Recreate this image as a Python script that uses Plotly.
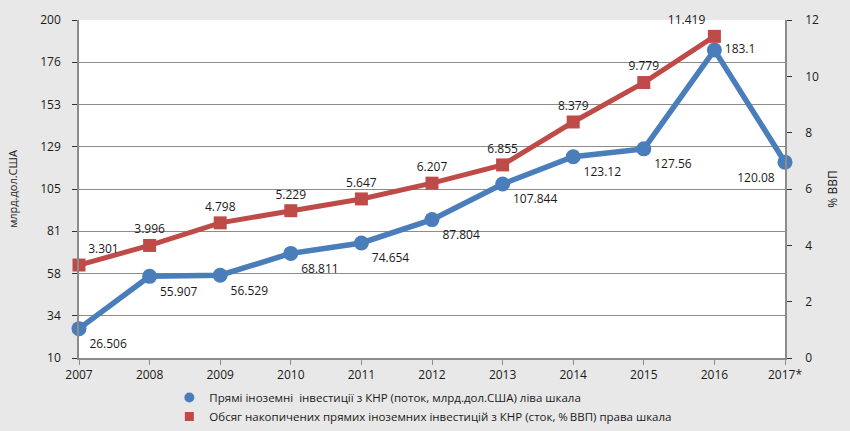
import plotly.graph_objects as go

years = ["2007", "2008", "2009", "2010", "2011", "2012", "2013", "2014", "2015", "2016", "2017*"]
fdi_flow = [26.506, 55.907, 56.529, 68.811, 74.654, 87.804, 107.844, 123.12, 127.56, 183.1, 120.08]
fdi_stock = [3.301, 3.996, 4.798, 5.229, 5.647, 6.207, 6.855, 8.379, 9.779, 11.419, None]

left_tickvals = [10, 33.75, 57.5, 81.25, 105, 128.75, 152.5, 176.25, 200]
left_ticktext = ["10", "34", "58", "81", "105", "129", "153", "176", "200"]
right_tickvals = [0, 2, 4, 6, 8, 10, 12]

name_flow = "Прямі іноземні\u00a0 інвестиції з КНР (поток, млрд.дол.США) ліва шкала"
name_stock = "Обсяг накопичених прямих іноземних інвестицій з КНР (сток, %\u2009ВВП) права шкала"

blue = "#4a7ebb"
red = "#be4b48"
xi = list(range(len(years)))

flow_pos = ["bottom right"] * 9 + ["middle right", "bottom left"]
stock_pos = ["top right"] + ["top center"] * 8 + ["top left", "top center"]

fig = go.Figure()
fig.add_trace(go.Scatter(
    x=xi, y=fdi_stock, name=name_stock, yaxis="y2", mode="lines+markers+text",
    line=dict(color=red, width=5), marker=dict(symbol="square", size=13, color=red),
    text=[("%g" % v) if v is not None else "" for v in fdi_stock],
    textposition=stock_pos, textfont=dict(size=12, color="#1a1a1a"),
    showlegend=False, cliponaxis=False, hoverinfo="skip",
))
fig.add_trace(go.Scatter(
    x=xi, y=fdi_flow, name=name_flow, mode="lines+markers+text",
    line=dict(color=blue, width=5.5), marker=dict(symbol="circle", size=15, color=blue),
    text=["%g" % v for v in fdi_flow],
    textposition=flow_pos, textfont=dict(size=12, color="#1a1a1a"),
    showlegend=False, cliponaxis=False, hoverinfo="skip",
))
# legend entries (marker only, like the reference)
fig.add_trace(go.Scatter(
    x=[None], y=[None], name=name_flow, mode="markers",
    marker=dict(symbol="circle", size=10, color=blue), legendrank=1,
))
fig.add_trace(go.Scatter(
    x=[None], y=[None], name=name_stock, mode="markers",
    marker=dict(symbol="square", size=9, color=red), legendrank=2,
))

axis_grey = "#8c8c8c"
fig.update_layout(
    width=850, height=431,
    paper_bgcolor="#e8e8e8", plot_bgcolor="white",
    margin=dict(l=79, r=65, t=20, b=73, autoexpand=False),
    font=dict(family="Open Sans, Noto Sans, sans-serif", size=12, color="#1a1a1a"),
    xaxis=dict(
        tickmode="array", tickvals=xi, ticktext=years, range=[0, len(years) - 1],
        showgrid=False, showline=True, linecolor=axis_grey, linewidth=1.5,
        ticks="outside", ticklen=5, tickcolor=axis_grey, zeroline=False,
        tickfont=dict(size=12), automargin=False,
    ),
    yaxis=dict(
        range=[10, 200], tickmode="array", tickvals=left_tickvals, ticktext=left_ticktext,
        showgrid=True, gridcolor="#8c8c8c", gridwidth=1,
        showline=True, linecolor=axis_grey, linewidth=1.5,
        ticks="outside", ticklen=5, tickcolor="#333", zeroline=False,
        ticklabelstandoff=9,
        title=dict(text="млрд.дол.США", font=dict(size=11), standoff=20),
        tickfont=dict(size=12), automargin=False,
    ),
    yaxis2=dict(
        range=[0, 12], tickmode="array", tickvals=right_tickvals,
        overlaying="y", side="right", showgrid=False,
        showline=True, linecolor=axis_grey, linewidth=1.5,
        ticks="outside", ticklen=5, tickcolor="#333", zeroline=False,
        ticklabelstandoff=11,
        title=dict(text="% ВВП", font=dict(size=12), standoff=11),
        tickfont=dict(size=12), automargin=False,
    ),
    legend=dict(
        x=0.128, y=-0.074, xanchor="left", yanchor="top",
        bgcolor="rgba(0,0,0,0)", font=dict(size=11.5),
        tracegroupgap=0, itemwidth=30,
    ),
    showlegend=True,
    hovermode=False,
)

fig.write_html(
    "out.html",
    config={"displayModeBar": False},
    post_script="document.body.style.margin='0';document.body.style.background='#e8e8e8';",
)
